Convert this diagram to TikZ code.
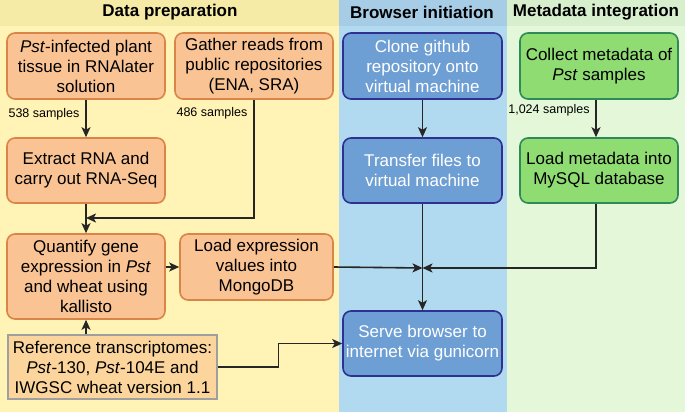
\documentclass[tikz,border=0pt]{standalone}
\usepackage{fontspec}
\setmainfont{Liberation Sans}
\usetikzlibrary{arrows.meta}
\definecolor{ybg}{HTML}{FFF3B5}
\definecolor{yhd}{HTML}{F5EAA6}
\definecolor{bbg}{HTML}{B1D9EF}
\definecolor{bhd}{HTML}{A7CDE6}
\definecolor{gbg}{HTML}{E4F8D9}
\definecolor{ghd}{HTML}{D8EFCE}
\definecolor{ofill}{HTML}{F9C394}
\definecolor{oline}{HTML}{D98548}
\definecolor{bfill}{HTML}{6E9FD4}
\definecolor{bline}{HTML}{2E3192}
\definecolor{gfill}{HTML}{8FDC73}
\definecolor{gline}{HTML}{2E8B57}
\definecolor{rfill}{HTML}{FBD59C}
\tikzset{box/.style={draw,rectangle,rounded corners=8pt,line width=1.6pt,align=center,
    font=\fontsize{17}{20}\selectfont,inner sep=2pt},
  obox/.style={box,fill=ofill,draw=oline,minimum width=158pt},
  bbox/.style={box,fill=bfill,draw=bline,text=white,minimum width=159pt},
  gbox/.style={box,fill=gfill,draw=gline,minimum width=158pt},
  line/.style={line width=1.6pt,black!85},
  arr/.style={line,-{Stealth[length=10pt,width=9pt,inset=2.5pt]}},
  head/.style={font=\fontsize{17}{20}\selectfont\bfseries},
  count/.style={font=\fontsize{12.5}{15}\selectfont}}

\begin{document}
\begin{tikzpicture}[x=1pt,y=-1pt]
\useasboundingbox (0,0) rectangle (685,412);
\fill[ybg] (0,0) rectangle (339,412);
\fill[bbg] (339,0) rectangle (507,412);
\fill[gbg] (507,0) rectangle (685,412);
\fill[yhd] (0,0) rectangle (339,26);
\fill[bhd] (339,0) rectangle (507,26);
\fill[ghd] (507,0) rectangle (685,26);
\node[head] (hdata) at (170,12) {Data preparation};
\node[head] (hbrowser) at (422,12) {Browser initiation};
\node[head] (hmeta) at (596,12) {Metadata integration};

\node[obox,minimum height=66pt] (pst) at (86,66) {\textit{Pst}-infected plant\\tissue in RNAlater\\solution};
\node[obox,minimum height=66pt] (gather) at (254,66) {Gather reads from\\public repositories\\(ENA, SRA)};
\node[obox,minimum height=65pt] (extract) at (86,170.5) {Extract RNA and\\carry out RNA-Seq};
\node[obox,minimum height=85pt] (quant) at (86,276.5) {Quantify gene\\expression in \textit{Pst}\\and wheat using\\kallisto};
\node[obox,minimum width=153pt,minimum height=66pt] (loadexp) at (256.5,267) {Load expression\\values into\\MongoDB};
\node[box,fill=rfill,draw=gray!75,rounded corners=0pt,line width=2.8pt,minimum width=209pt,minimum height=64pt] (ref) at (112.5,367) {Reference transcriptomes:\\\textit{Pst}-130, \textit{Pst}-104E and\\IWGSC wheat version 1.1};
\node[bbox,minimum height=66pt] (clone) at (422.5,66) {Clone github\\repository onto\\virtual machine};
\node[bbox,minimum height=65pt] (transfer) at (422.5,170.5) {Transfer files to\\virtual machine};
\node[bbox,minimum height=65pt] (serve) at (422.5,343.5) {Serve browser to\\internet via gunicorn};
\node[gbox,minimum height=66pt] (collect) at (599,66) {Collect metadata of\\\textit{Pst} samples};
\node[gbox,minimum height=65pt] (loadmeta) at (599,170.5) {Load metadata into\\MySQL database};

\node[count] (n538) at (44,114) {538 samples};
\node[count] (n486) at (212,113) {486 samples};
\node[count] (n1024) at (549,110) {1,024 samples};

\coordinate (ja) at (86,218);
\coordinate (jb) at (422.5,268);
\draw[arr] (pst) -- (extract);
\draw[arr] (gather.south) |- (ja);
\draw[arr] (extract) -- (quant);
\draw[arr] (quant.east |- loadexp.west) -- (loadexp.west);
\draw[arr] (ref.north -| quant.south) -- (quant.south);
\draw[arr] (ref.east) -- ++(60,0) |- (serve.west);
\draw[arr] (loadexp.east) -- (jb);
\draw[arr] (clone) -- (transfer);
\draw[arr] (transfer) -- (serve);
\draw[arr] ([xshift=-3pt]collect.south) -- ([xshift=-3pt]loadmeta.north);
\draw[arr] ([xshift=-3pt]loadmeta.south) |- (jb);
\end{tikzpicture}
\end{document}
